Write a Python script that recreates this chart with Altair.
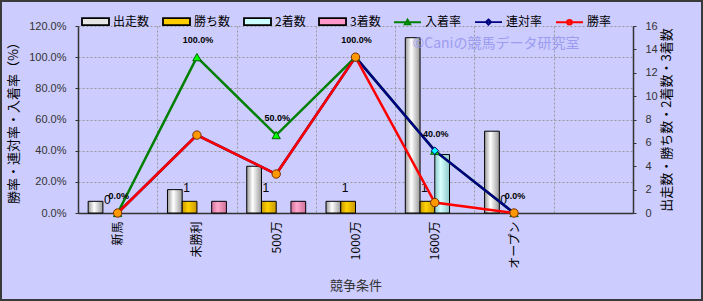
import altair as alt
import pandas as pd

# ---------------- data ----------------
categories = ["新馬", "未勝利", "500万", "1000万", "1600万", "オープン"]
x_domain = categories + [" "]

runs = [1, 2, 4, 1, 15, 7]
wins = [0, 1, 1, 1, 1, 0]
seconds = [0, 0, 0, 0, 5, 0]
thirds = [0, 1, 1, 0, 0, 0]

nyuchaku_rate = [0.0, 1.0, 0.5, 1.0, 0.4, 0.0]
rentai_rate = [0.0, 0.5, 0.25, 1.0, 0.4, 0.0]
win_rate = [0.0, 0.5, 0.25, 1.0, 0.067, 0.0]

bar_series = ["出走数", "勝ち数", "2着数", "3着数"]
rate_series = ["入着率", "連対率", "勝率"]
all_series = bar_series + rate_series
watermark = "©Caniの競馬データ研究室"

count_df = pd.DataFrame(
    [(c, s, v) for s, vals in zip(bar_series, [runs, wins, seconds, thirds])
     for c, v in zip(categories, vals)],
    columns=["category", "series", "value"],
)
rate_df = pd.DataFrame(
    [(c, s, v) for s, vals in zip(rate_series, [nyuchaku_rate, rentai_rate, win_rate])
     for c, v in zip(categories, vals)],
    columns=["category", "series", "value"],
)
legend_df = pd.DataFrame({"series": all_series})
wm_df = pd.DataFrame({"t": [watermark]})

# ---------------- styles ----------------
LAT = "Liberation Sans, Noto Sans CJK JP"
CJK = "Noto Sans CJK JP"


def grad(edge, mid):
    return alt.LinearGradient(
        gradient="linear", x1=0, x2=1, y1=0, y2=0,
        stops=[alt.GradientStop(color=edge, offset=0),
               alt.GradientStop(color=mid, offset=0.4),
               alt.GradientStop(color=edge, offset=1)],
    )


bar_grads = {
    "出走数": grad("#9A9A9A", "#FFFFFF"),
    "勝ち数": grad("#C89600", "#FFD400"),
    "2着数": grad("#8CC8C8", "#D8FFFF"),
    "3着数": grad("#D0709A", "#FFA8CC"),
}

x_enc = alt.X(
    "category:N",
    sort=x_domain,
    scale=alt.Scale(domain=x_domain, paddingInner=0, paddingOuter=0),
    axis=alt.Axis(
        title="競争条件", labelAngle=270, tickBand="extent", grid=True,
        gridColor="#999999", gridDash=[2, 2], gridWidth=1, ticks=False,
        labelFont=CJK, labelFontSize=12, labelColor="#000000", labelPadding=8,
        domainColor="#333333", domainWidth=1.5,
        titleFont=CJK, titleFontSize=13, titleFontWeight="normal",
        titleColor="#333333", titlePadding=10,
    ),
)
xoff_enc = alt.XOffset(
    "series:N", scale=alt.Scale(domain=bar_series, paddingInner=0, paddingOuter=0.69)
)

y_count = alt.Y(
    "value:Q",
    scale=alt.Scale(domain=[0, 16]),
    axis=alt.Axis(
        orient="right", values=list(range(0, 17, 2)), grid=False,
        title="出走数・勝ち数・2着数・3着数", titleAngle=270,
        titleFont=CJK, titleFontSize=13, titleFontWeight="normal",
        titleColor="#000000", titlePadding=16,
        labelFont=LAT, labelFontSize=11, labelColor="#333333", labelPadding=9,
        tickSize=3, tickColor="#333333", domainColor="#333333", domainWidth=1.5,
    ),
)
y_rate = alt.Y(
    "value:Q",
    scale=alt.Scale(domain=[0, 1.2]),
    axis=alt.Axis(
        orient="left", values=[0, 0.2, 0.4, 0.6, 0.8, 1.0, 1.2], format=".1%",
        grid=True, gridColor="#999999", gridDash=[2, 2], gridWidth=1,
        title="勝率・連対率・入着率（%）",
        titleFont=CJK, titleFontSize=13, titleFontWeight="normal",
        titleColor="#000000", titlePadding=8,
        labelFont=LAT, labelFontSize=11, labelColor="#333333", labelPadding=9,
        tickSize=3, tickColor="#333333", domainColor="#333333", domainWidth=1.5,
    ),
)

# ---------------- count (right axis) group ----------------
count_base = alt.Chart(count_df)
bar_layers = [
    count_base.transform_filter((alt.datum.series == s) & (alt.datum.value > 0))
    .mark_bar(fill=bar_grads[s], stroke="#000000", strokeWidth=1)
    .encode(x=x_enc, xOffset=xoff_enc, y=y_count)
    for s in bar_series
]
win_labels = (
    count_base.transform_filter(alt.datum.series == "勝ち数")
    .mark_text(dy=-13, dx=-3, font=LAT, fontSize=12, color="#000000")
    .encode(x=x_enc, xOffset=xoff_enc, y=y_count, text=alt.Text("value:Q"))
)
count_group = alt.layer(*bar_layers, win_labels)

# ---------------- rate (left axis) group ----------------
rate_base = alt.Chart(rate_df)
line_styles = {
    "入着率": dict(color="#008000"),
    "連対率": dict(color="#000080"),
    "勝率": dict(color="#FF0000"),
}
point_styles = {
    "入着率": dict(shape="triangle-up", fill="#00FF00", stroke="#006000", size=70),
    "連対率": dict(shape="diamond", fill="#00FFFF", stroke="#000080", size=55),
    "勝率": dict(shape="circle", fill="#FF9900", stroke="#7A2A00", size=70),
}
line_layers = [
    rate_base.transform_filter(alt.datum.series == s)
    .mark_line(strokeWidth=2.5, **line_styles[s])
    .encode(x=x_enc, y=y_rate)
    for s in rate_series
]
point_layers = [
    rate_base.transform_filter(alt.datum.series == s)
    .mark_point(filled=True, opacity=1, strokeWidth=1, **point_styles[s])
    .encode(x=x_enc, y=y_rate)
    for s in rate_series
]
rate_labels = (
    rate_base.transform_filter(alt.datum.series == "入着率")
    .mark_text(dy=-17, dx=1, font=LAT, fontSize=9, fontWeight="bold", color="#000000")
    .encode(x=x_enc, y=y_rate, text=alt.Text("value:Q", format=".1%"))
)

# legend (one row, 7 entries)
bar_sym = "M-1,-0.26H1V0.26H-1Z"
shape_range = [bar_sym] * 4 + [
    "M-1,0H1M0,-0.2L0.2,0.15L-0.2,0.15Z",
    "M-1,0H1M0,-0.2L0.2,0L0,0.2L-0.2,0Z",
    "M-1,0H1M0.18,0A0.18,0.18 0 1,1 -0.18,0A0.18,0.18 0 1,1 0.18,0Z",
]
fill_range = ["#E6E6E6", "#FFCC00", "#CCFFFF", "#FF99CC", "#00FF00", "#00FFFF", "#FF9900"]
stroke_range = ["#000000"] * 4 + ["#008000", "#000080", "#FF0000"]
leg = alt.Legend(
    orient="none", legendX=3, legendY=-19, direction="horizontal", columns=7,
    title=None, symbolSize=729, symbolStrokeWidth=1.8, labelFont=CJK,
    labelFontSize=12, labelColor="#000000", labelOffset=3, columnPadding=9,
    padding=0,
)
legend_layer = (
    alt.Chart(legend_df).transform_filter("false")
    .mark_point(filled=True, opacity=1)
    .encode(
        shape=alt.Shape("series:N", scale=alt.Scale(domain=all_series, range=shape_range), legend=leg),
        fill=alt.Fill("series:N", scale=alt.Scale(domain=all_series, range=fill_range), legend=leg),
        stroke=alt.Stroke("series:N", scale=alt.Scale(domain=all_series, range=stroke_range), legend=leg),
    )
)

wm_layer = alt.Chart(wm_df).mark_text(
    font=CJK, fontSize=14, color="#9C9CF0", align="center", baseline="middle"
).encode(text="t:N", x=alt.value(418), y=alt.value(18))

border_layer = alt.Chart(wm_df).mark_rect(
    fillOpacity=0, stroke="#3A3A3A", strokeWidth=2
).encode(x=alt.value(-77), x2=alt.value(624), y=alt.value(-25), y2=alt.value(274))

rate_group = alt.layer(*line_layers, *point_layers, rate_labels, legend_layer, wm_layer, border_layer)

chart = (
    alt.layer(count_group, rate_group)
    .resolve_scale(y="independent")
    .properties(
        width=555, height=187,
        autosize=alt.AutoSizeParams(type="none"),
        padding={"left": 78, "top": 26, "right": 70, "bottom": 88},
        background="#CCCCFF",
    )
    .configure_view(fill="#FFFFCC", strokeWidth=0)
)

chart.save("out.html", embed_options={"renderer": "svg", "actions": False})
